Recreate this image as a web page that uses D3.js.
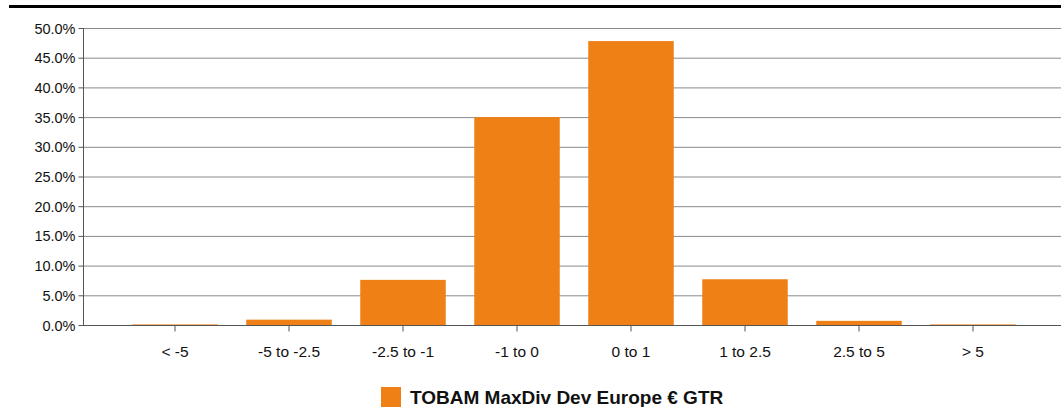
<!DOCTYPE html>
<html><head><meta charset="utf-8">
<script src="https://cdn.jsdelivr.net/npm/d3@7"></script>
<style>body{margin:0;background:#fff}svg{display:block;font-family:"Liberation Sans",Arial,sans-serif}</style>
</head><body><svg id="c" width="1061" height="407"></svg>
<script>
const categories = ["< -5","-5 to -2.5","-2.5 to -1","-1 to 0","0 to 1","1 to 2.5","2.5 to 5","> 5"];
const values = [0.1, 0.9, 7.6, 35.0, 47.8, 7.7, 0.7, 0.1];
const yTicks = [0,5,10,15,20,25,30,35,40,45,50];
const seriesName = "TOBAM MaxDiv Dev Europe € GTR";
const color = "#ee8016";

const svg = d3.select("#c");
svg.append("rect").attr("x",9).attr("y",5).attr("width",1052).attr("height",3).attr("fill","#000");

const x = d3.scaleBand().domain(categories).range([118,1030]).paddingInner(0.25).paddingOuter(0.125);
const y = d3.scaleLinear().domain([0,50]).range([325,28]);

// grid
svg.append("g").selectAll("line").data(yTicks.slice(1)).join("line")
  .attr("x1",83).attr("x2",1061).attr("y1",d=>y(d)+0.5).attr("y2",d=>y(d)+0.5)
  .attr("stroke","#8a8a8a").attr("stroke-width",1);

// bars
svg.append("g").selectAll("rect").data(values).join("rect")
  .attr("x",(d,i)=>x(categories[i])).attr("width",x.bandwidth())
  .attr("y",d=>y(d)).attr("height",d=>y(0)-y(d)).attr("fill",color);

// y axis
const ya = svg.append("g").attr("transform","translate(83.5,0)")
  .call(d3.axisLeft(y).tickValues(yTicks).tickFormat(d=>d.toFixed(1)+"%").tickSize(5).tickSizeOuter(0));
ya.select(".domain").attr("stroke","#555").attr("d","M0,"+(y(50))+"V"+(y(0)+0.5));
ya.selectAll(".tick line").attr("stroke","#555");
ya.selectAll("text").attr("font-size",14.5).attr("fill","#111").attr("x",-8).attr("dy","0.35em")
  .attr("font-family","'Liberation Sans',Arial,sans-serif");

// x axis
const xa = svg.append("g").attr("transform","translate(0,"+(y(0)+0.5)+")")
  .call(d3.axisBottom(x).tickSize(6).tickSizeOuter(0));
xa.select(".domain").attr("stroke","#555").attr("d","M83,0H1061");
xa.selectAll(".tick line").attr("stroke","#555");
xa.selectAll("text").attr("font-size",15.5).attr("fill","#111").attr("y",20)
  .attr("font-family","'Liberation Sans',Arial,sans-serif");

// legend
svg.append("rect").attr("x",381).attr("y",387).attr("width",20).attr("height",20).attr("fill",color);
svg.append("text").attr("x",410).attr("y",404).attr("font-size",19).attr("font-weight","bold")
  .attr("fill","#111").text(seriesName);
</script></body></html>
